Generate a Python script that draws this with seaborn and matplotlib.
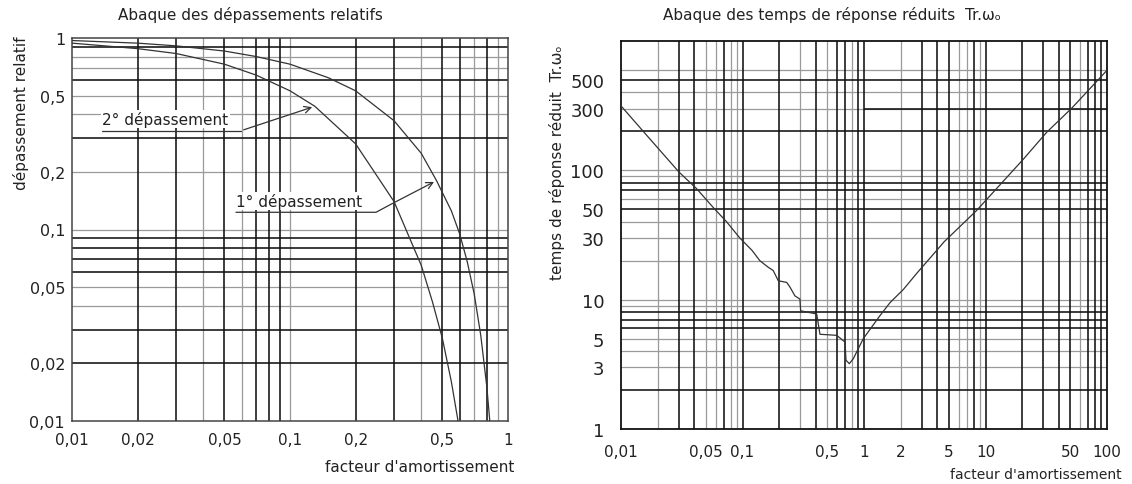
import seaborn as sns
import matplotlib.pyplot as plt

# --- valeurs lues sur les abaques ---
# dépassements relatifs
z_d1 = [0.01, 0.02, 0.03, 0.05, 0.07, 0.1, 0.15, 0.2, 0.3, 0.4, 0.47, 0.55, 0.6, 0.65, 0.7, 0.75, 0.8, 0.825]
d1 = [0.97, 0.94, 0.91, 0.855, 0.80, 0.73, 0.62, 0.53, 0.37, 0.25, 0.18, 0.125, 0.095, 0.068, 0.046, 0.028, 0.015, 0.01]
z_d2 = [0.01, 0.02, 0.03, 0.05, 0.07, 0.1, 0.13, 0.2, 0.3, 0.4, 0.45, 0.5, 0.55, 0.59]
d2 = [0.94, 0.88, 0.83, 0.73, 0.64, 0.53, 0.44, 0.28, 0.14, 0.065, 0.042, 0.027, 0.016, 0.01]

# temps de réponse réduit Tr.w0
z_tr = [0.01, 0.016, 0.03, 0.042, 0.057, 0.074, 0.095, 0.12, 0.139, 0.163, 0.179, 0.197, 0.231,
        0.246, 0.27, 0.297, 0.301, 0.408, 0.434, 0.596, 0.698, 0.711, 0.757, 0.817, 0.987, 1.35,
        1.64, 2.11, 2.72, 3.96, 4.56, 8.46, 20.5, 31.9, 51.2, 99.4]
tr = [315, 190, 97, 72, 52, 40, 30, 24, 20, 17.8, 16.8, 14.0, 13.6,
      12.5, 10.7, 10.1, 8.2, 7.75, 5.4, 5.3, 4.7, 3.4, 3.2, 3.5, 5.0, 7.5,
      9.5, 12, 16, 24, 28, 49, 122, 197, 302, 590]

ticks_dep = [0.01, 0.02, 0.05, 0.1, 0.2, 0.5, 1]
labels_dep = ["0,01", "0,02", "0,05", "0,1", "0,2", "0,5", "1"]
xticks_tr = [0.01, 0.05, 0.1, 0.5, 1, 2, 5, 10, 50, 100]
xlabels_tr = ["0,01", "0,05", "0,1", "0,5", "1", "2", "5", "10", "50", "100"]
yticks_tr = [1, 3, 5, 10, 30, 50, 100, 300, 500]
ylabels_tr = ["1", "3", "5", "10", "30", "50", "100", "300", "500"]

# quadrillage (traits noirs / gris comme sur le papier)
vx_black_dep = [0.02, 0.03, 0.05, 0.07, 0.08, 0.09, 0.2, 0.3, 0.5, 0.6, 0.8]
vx_gray_dep = [0.04, 0.06, 0.1, 0.4, 0.7, 0.9]
hy_black_dep = [0.02, 0.03, 0.06, 0.07, 0.08, 0.09, 0.3, 0.6, 0.9]
hy_gray_dep = [0.04, 0.05, 0.1, 0.2, 0.4, 0.5, 0.7, 0.8]
vx_black_tr = [0.03, 0.04, 0.07, 0.1, 0.2, 0.4, 0.6, 0.7, 0.9, 1, 3, 4, 5, 8, 10, 20, 30, 40, 50, 70, 80, 90]
vx_gray_tr = [0.02, 0.05, 0.06, 0.08, 0.09, 0.3, 0.5, 0.8, 2, 6, 7, 9, 60]
hy_black_tr = [2, 6, 7, 8, 50, 70, 80, 200, 500]
hy_gray_tr = [3, 4, 5, 9, 10, 20, 30, 40, 60, 90, 100, 300, 400, 600]

sns.set_theme(style="white")
plt.rcParams['font.family'] = ['DejaVu Sans']
TXT = "#222222"
BLK = "#111111"
GRY = "#9a9a9a"

fig = plt.figure(figsize=(11.32, 4.85), dpi=100)
ax1 = fig.add_axes([72 / 1132, 1 - 422 / 485, 436 / 1132, 383 / 485])
ax2 = fig.add_axes([621 / 1132, 1 - 430 / 485, 486 / 1132, 388 / 485])


def grid(ax, vblack, vgray, hblack, hgray):
    for v in vgray:
        ax.axvline(v, color=GRY, lw=0.9, zorder=1)
    for h in hgray:
        ax.axhline(h, color=GRY, lw=0.9, zorder=1)
    for v in vblack:
        ax.axvline(v, color=BLK, lw=1.15, zorder=1.5)
    for h in hblack:
        ax.axhline(h, color=BLK, lw=1.15, zorder=1.5)


# ---------- abaque des dépassements ----------
grid(ax1, vx_black_dep, vx_gray_dep, hy_black_dep, hy_gray_dep)
sns.lineplot(x=z_d1, y=d1, ax=ax1, color="#333333", lw=0.9, sort=False, estimator=None, zorder=3)
sns.lineplot(x=z_d2, y=d2, ax=ax1, color="#333333", lw=0.9, sort=False, estimator=None, zorder=3)
ax1.set_xscale("log")
ax1.set_yscale("log")
ax1.set_xlim(0.01, 1)
ax1.set_ylim(0.01, 1)
ax1.set_xticks(ticks_dep, labels_dep)
ax1.set_yticks(ticks_dep, labels_dep)
ax1.minorticks_off()
ax1.tick_params(length=0, labelsize=11, labelcolor=TXT)
ax1.tick_params(axis="x", pad=8)
ax1.tick_params(axis="y", pad=5, labelsize=11.5)
for s in ax1.spines.values():
    s.set_color("#444444")
    s.set_linewidth(1.1)

box = dict(facecolor="white", edgecolor="none", pad=1)
ax1.text(0.0138, 0.378, "2° dépassement", ha="left", va="center", fontsize=11, color=TXT, bbox=box, zorder=4)
ax1.plot([0.0138, 0.0596], [0.328, 0.328], color="#333333", lw=0.9, zorder=4)
ax1.annotate("", xy=(z_d2[6], d2[6]), xytext=(0.0596, 0.328),
             arrowprops=dict(arrowstyle="->", color="#333333", lw=0.9), zorder=4)
ax1.text(0.0565, 0.141, "1° dépassement", ha="left", va="center", fontsize=11, color=TXT, bbox=box, zorder=4)
ax1.plot([0.0565, 0.248, 0.296], [0.123, 0.123, 0.137], color="#333333", lw=0.9, zorder=4)
ax1.annotate("", xy=(z_d1[10], d1[10]), xytext=(0.296, 0.137),
             arrowprops=dict(arrowstyle="->", color="#333333", lw=0.9), zorder=4)

fig.text(250 / 1132, 1 - 15 / 485, "Abaque des dépassements relatifs", ha="center", va="center",
         fontsize=11, color=TXT)
fig.text(21 / 1132, 1 - 113 / 485, "dépassement relatif", rotation=90, ha="center", va="center",
         fontsize=11, color=TXT)
fig.text(514 / 1132, 1 - 468 / 485, "facteur d'amortissement", ha="right", va="center",
         fontsize=11, color=TXT)

# ---------- abaque des temps de réponse ----------
grid(ax2, vx_black_tr, vx_gray_tr, hy_black_tr, hy_gray_tr)
ax2.hlines(300, 1, 100, color=BLK, lw=1.15, zorder=1.5)
sns.lineplot(x=z_tr, y=tr, ax=ax2, color="#333333", lw=0.9, sort=False, estimator=None, zorder=3)
ax2.set_xscale("log")
ax2.set_yscale("log")
ax2.set_xlim(0.01, 100)
ax2.set_ylim(1, 1000)
ax2.set_xticks(xticks_tr, xlabels_tr)
ax2.set_yticks(yticks_tr, ylabels_tr)
ax2.minorticks_off()
ax2.tick_params(length=0, labelsize=11, labelcolor=TXT)
ax2.tick_params(axis="x", pad=11)
ax2.tick_params(axis="y", pad=12, labelsize=13)
for s in ax2.spines.values():
    s.set_color(BLK)
    s.set_linewidth(1.3)

fig.text(832 / 1132, 1 - 15 / 485, "Abaque des temps de réponse réduits  Tr.ωₒ", ha="center", va="center",
         fontsize=11, color=TXT)
fig.text(557 / 1132, 1 - 163 / 485, "temps de réponse réduit  Tr.ωₒ", rotation=90, ha="center", va="center",
         fontsize=11, color=TXT)
fig.text(1122 / 1132, 1 - 475 / 485, "facteur d'amortissement", ha="right", va="center",
         fontsize=10, color=TXT)

fig.savefig("out.png", dpi=100)
